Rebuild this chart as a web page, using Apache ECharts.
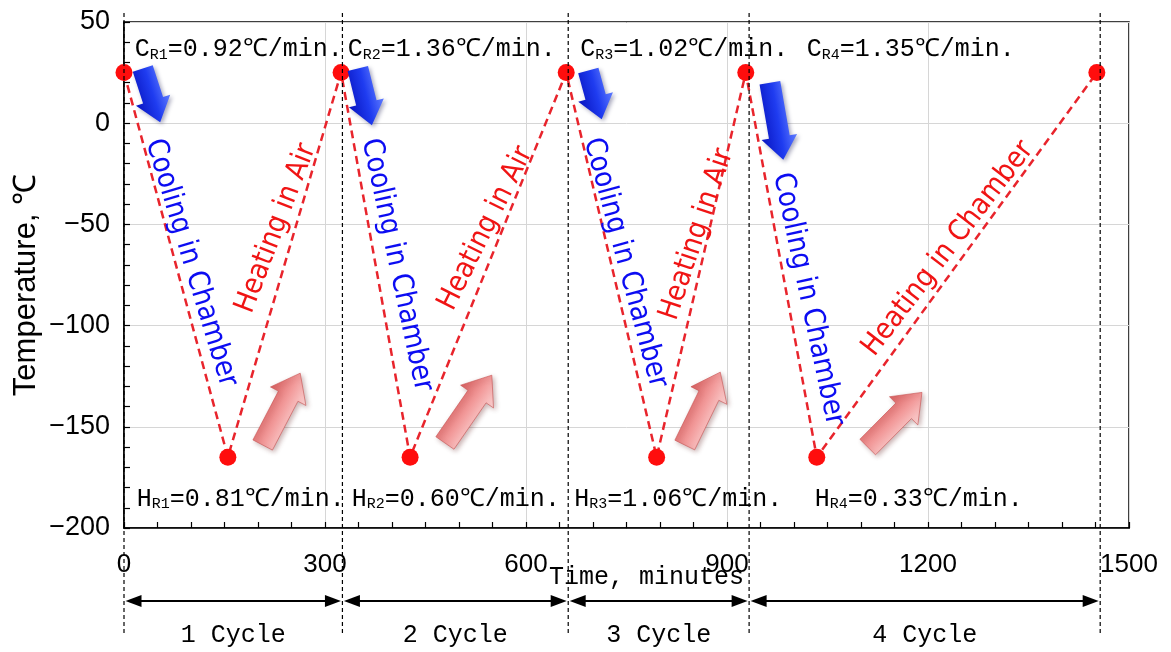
<!DOCTYPE html>
<html>
<head>
<meta charset="utf-8">
<script src="https://cdn.jsdelivr.net/npm/echarts@6/dist/echarts.min.js"></script>
<style>
  html, body { margin: 0; padding: 0; background: #fff; }
  #chart { width: 1171px; height: 652px; }
</style>
</head>
<body>
<div id="chart"></div>
<script>
// Thermal cycling profile: temperature (°C) against elapsed time (minutes)
const timeMin = [0, 155, 324, 427, 660, 795, 928, 1034, 1452];
const tempC   = [25, -165, 25, -165, 25, -165, 25, -165, 25];

// Cycle boundaries (minutes) and their names
const cycleBounds = [0, 326, 663, 933, 1457];
const cycleNames  = ['1 Cycle', '2 Cycle', '3 Cycle', '4 Cycle'];

// Cooling (C_R) and heating (H_R) rates per cycle, °C/min
const coolRates = ['0.92', '1.36', '1.02', '1.35'];
const heatRates = ['0.81', '0.60', '1.06', '0.33'];

// Phase captions
const coolText = ['Cooling in Chamber', 'Cooling in Chamber', 'Cooling in Chamber', 'Cooling in Chamber'];
const heatText = ['Heating in Air', 'Heating in Air', 'Heating in Air', 'Heating in Chamber'];

// Axis ticks
const xTickMin = 0, xTickMax = 1500, xTickStep = 300;
const yTickMin = -200, yTickMax = 50, yTickStep = 50;

// ---- annotation placement (data units) ----
const rateTopX = [16, 334, 681, 1019];
const rateTopY = 37;
const rateBotX = [19, 340, 672, 1031];
const rateBotY = -185;
const coolPos = [[100, -69, -73], [407, -70, -78], [748, -69, -75], [1021, -87, -78]];
const heatPos = [[227, -52, 69], [540, -52, 63.5], [855, -55, 71.5], [1230, -62, 52.5]];
const blueArrows = [[[28, 27], [54, 0.5]], [[349, 27], [370, -1]], [[693, 26], [713, 2]], [[964, 20], [984, -18]]];
const pinkArrows = [[[207, -159], [263, -123.5]], [[479, -158], [549, -124.5]], [[837, -159], [890, -123]], [[1110, -160], [1191, -133]]];

const fontMono  = '"Liberation Mono", "DejaVu Sans Mono", monospace';
const fontSans  = '"Liberation Sans", Arial, sans-serif';
const fontPhase = '"DejaVu Sans Condensed", "DejaVu Sans", sans-serif';

const chart = echarts.init(document.getElementById('chart'));

const rateRich = {
  a: { fontFamily: fontMono, fontSize: 25, color: '#000', lineHeight: 28, verticalAlign: 'bottom' },
  s: { fontFamily: fontMono, fontSize: 15, color: '#000', lineHeight: 14, verticalAlign: 'bottom' }
};

const notes = [];
for (let i = 0; i < 4; i++) {
  notes.push({
    value: [rateTopX[i], rateTopY],
    label: { show: true, position: 'right', distance: 0, color: '#000',
      formatter: '{a|C}{s|R' + (i + 1) + '}{a|=' + coolRates[i] + '℃/min.}', rich: rateRich }
  });
  notes.push({
    value: [rateBotX[i], rateBotY],
    label: { show: true, position: 'right', distance: 0, color: '#000',
      formatter: '{a|H}{s|R' + (i + 1) + '}{a|=' + heatRates[i] + '℃/min.}', rich: rateRich }
  });
  notes.push({
    value: [coolPos[i][0], coolPos[i][1]],
    label: { show: true, position: 'inside', rotate: coolPos[i][2], formatter: coolText[i],
      color: '#0c0cf2', fontFamily: fontPhase, fontSize: 29 }
  });
  notes.push({
    value: [heatPos[i][0], heatPos[i][1]],
    label: { show: true, position: 'inside', rotate: heatPos[i][2], formatter: heatText[i],
      color: '#f01414', fontFamily: fontPhase, fontSize: 29 }
  });
}

chart.setOption({
  animation: false,
  backgroundColor: '#fff',
  grid: { left: 124, right: 42, top: 22, bottom: 124, show: true, borderColor: '#000', borderWidth: 1.5 },
  xAxis: {
    type: 'value', min: xTickMin, max: xTickMax, interval: xTickStep,
    name: 'Time, minutes', nameLocation: 'middle', nameGap: 37, nameMoveOverlap: false,
    nameTextStyle: { fontFamily: fontMono, fontSize: 25, color: '#000', padding: [0, 0, 0, 40] },
    axisLine: { onZero: false, lineStyle: { color: '#000', width: 1.5 } },
    axisTick: { inside: true, length: 6, lineStyle: { color: '#000', width: 1.2 } },
    minorTick: { show: true, splitNumber: 6, length: 6, lineStyle: { color: '#000', width: 1.2 } },
    axisLabel: { fontFamily: fontSans, fontSize: 26, color: '#000', margin: 24, formatter: v => String(v) },
    splitLine: { show: true, lineStyle: { color: '#d6d6d6', width: 1 } }
  },
  yAxis: {
    type: 'value', min: yTickMin, max: yTickMax, interval: yTickStep,
    name: 'Temperature, ℃', nameLocation: 'middle', nameGap: 82, nameMoveOverlap: false,
    nameTextStyle: { fontFamily: fontSans, fontSize: 31, color: '#000', padding: [0, 20, 0, 0] },
    axisLine: { onZero: false, lineStyle: { color: '#000', width: 1.5 } },
    axisTick: { inside: true, length: 6, lineStyle: { color: '#000', width: 1.2 } },
    minorTick: { show: true, splitNumber: 5, length: 6, lineStyle: { color: '#000', width: 1.2 } },
    axisLabel: { fontFamily: fontSans, fontSize: 27, color: '#000', margin: 14,
      formatter: v => String(v).replace('-', '\u2212') },
    splitLine: { show: true, lineStyle: { color: '#d6d6d6', width: 1 } }
  },
  series: [
    {
      name: 'Temperature', type: 'line', clip: false, z: 5,
      data: timeMin.map((t, i) => [t, tempC[i]]),
      symbol: 'circle', symbolSize: 17,
      itemStyle: { color: '#ff0d0d' },
      lineStyle: { color: '#e8242c', width: 2.5, type: [8, 5] }
    },
    {
      name: 'notes', type: 'scatter', silent: true, z: 6,
      symbolSize: 0.1, itemStyle: { color: 'rgba(0,0,0,0)', opacity: 1 },
      data: notes
    }
  ]
});

// Block arrow polygon from tail to tip (pixel space)
function arrowShape(tail, tip, w1, w2, h) {
  const dx = tip[0] - tail[0], dy = tip[1] - tail[1];
  const L = Math.hypot(dx, dy);
  const ux = dx / L, uy = dy / L, nx = -uy, ny = ux;
  const bx = tip[0] - ux * h, by = tip[1] - uy * h;
  return {
    points: [
      [tail[0] + nx * w1, tail[1] + ny * w1],
      [bx + nx * w1, by + ny * w1],
      [bx + nx * w2, by + ny * w2],
      [tip[0], tip[1]],
      [bx - nx * w2, by - ny * w2],
      [bx - nx * w1, by - ny * w1],
      [tail[0] - nx * w1, tail[1] - ny * w1]
    ],
    g: [tail[0] + nx * w2, tail[1] + ny * w2, tail[0] - nx * w2, tail[1] - ny * w2]
  };
}

function px(p) { return chart.convertToPixel({ gridIndex: 0 }, p); }

function buildGraphics() {
  const g = [];
  const top = 13, bottom = 636, arrowY = 601, cycleTextY = 635;
  const bx = cycleBounds.map(t => px([t, 0])[0]);
  // dashed cycle boundaries
  bx.forEach(x => g.push({
    type: 'line', z: 10, silent: true,
    shape: { x1: x, y1: top, x2: x, y2: bottom },
    style: { stroke: '#000', lineWidth: 1.2, lineDash: [4, 3] }
  }));
  // double-headed span arrows and cycle names
  for (let i = 0; i < 4; i++) {
    const a = bx[i] + 1.5, b = bx[i + 1] - 1.5, hl = 16, hw = 6;
    g.push({ type: 'line', silent: true, shape: { x1: a + hl - 2, y1: arrowY, x2: b - hl + 2, y2: arrowY },
      style: { stroke: '#000', lineWidth: 2 } });
    g.push({ type: 'polygon', silent: true, shape: { points: [[a, arrowY], [a + hl, arrowY - hw], [a + hl, arrowY + hw]] },
      style: { fill: '#000' } });
    g.push({ type: 'polygon', silent: true, shape: { points: [[b, arrowY], [b - hl, arrowY - hw], [b - hl, arrowY + hw]] },
      style: { fill: '#000' } });
    g.push({ type: 'text', silent: true, x: (bx[i] + bx[i + 1]) / 2, y: cycleTextY,
      style: { text: cycleNames[i], fontFamily: fontMono, fontSize: 25, fill: '#000', align: 'center', verticalAlign: 'middle' } });
  }
  // blue cooling arrows
  blueArrows.forEach(([t, p]) => {
    const s = arrowShape(px(t), px(p), 10.5, 18, 23);
    g.push({ type: 'polygon', silent: true, z: 8, shape: { points: s.points },
      style: {
        fill: new echarts.graphic.LinearGradient(s.g[0], s.g[1], s.g[2], s.g[3], [
          { offset: 0, color: '#0814c0' }, { offset: 0.55, color: '#1f3cf0' }, { offset: 1, color: '#5f7cff' }], true),
        shadowBlur: 4, shadowOffsetX: 2, shadowOffsetY: 2, shadowColor: 'rgba(0,0,60,0.35)'
      } });
  });
  // pink heating arrows
  pinkArrows.forEach(([t, p]) => {
    const s = arrowShape(px(t), px(p), 11, 20, 26);
    g.push({ type: 'polygon', silent: true, z: 8, shape: { points: s.points },
      style: {
        fill: new echarts.graphic.LinearGradient(s.g[0], s.g[1], s.g[2], s.g[3], [
          { offset: 0, color: '#fcd6d6' }, { offset: 0.5, color: '#f29a9a' }, { offset: 1, color: '#d85f5f' }], true),
        stroke: 'rgba(200,80,80,0.6)', lineWidth: 1,
        shadowBlur: 5, shadowOffsetX: 2, shadowOffsetY: 2, shadowColor: 'rgba(80,0,0,0.3)'
      } });
  });
  return g;
}

chart.setOption({ graphic: buildGraphics() });
</script>
</body>
</html>
